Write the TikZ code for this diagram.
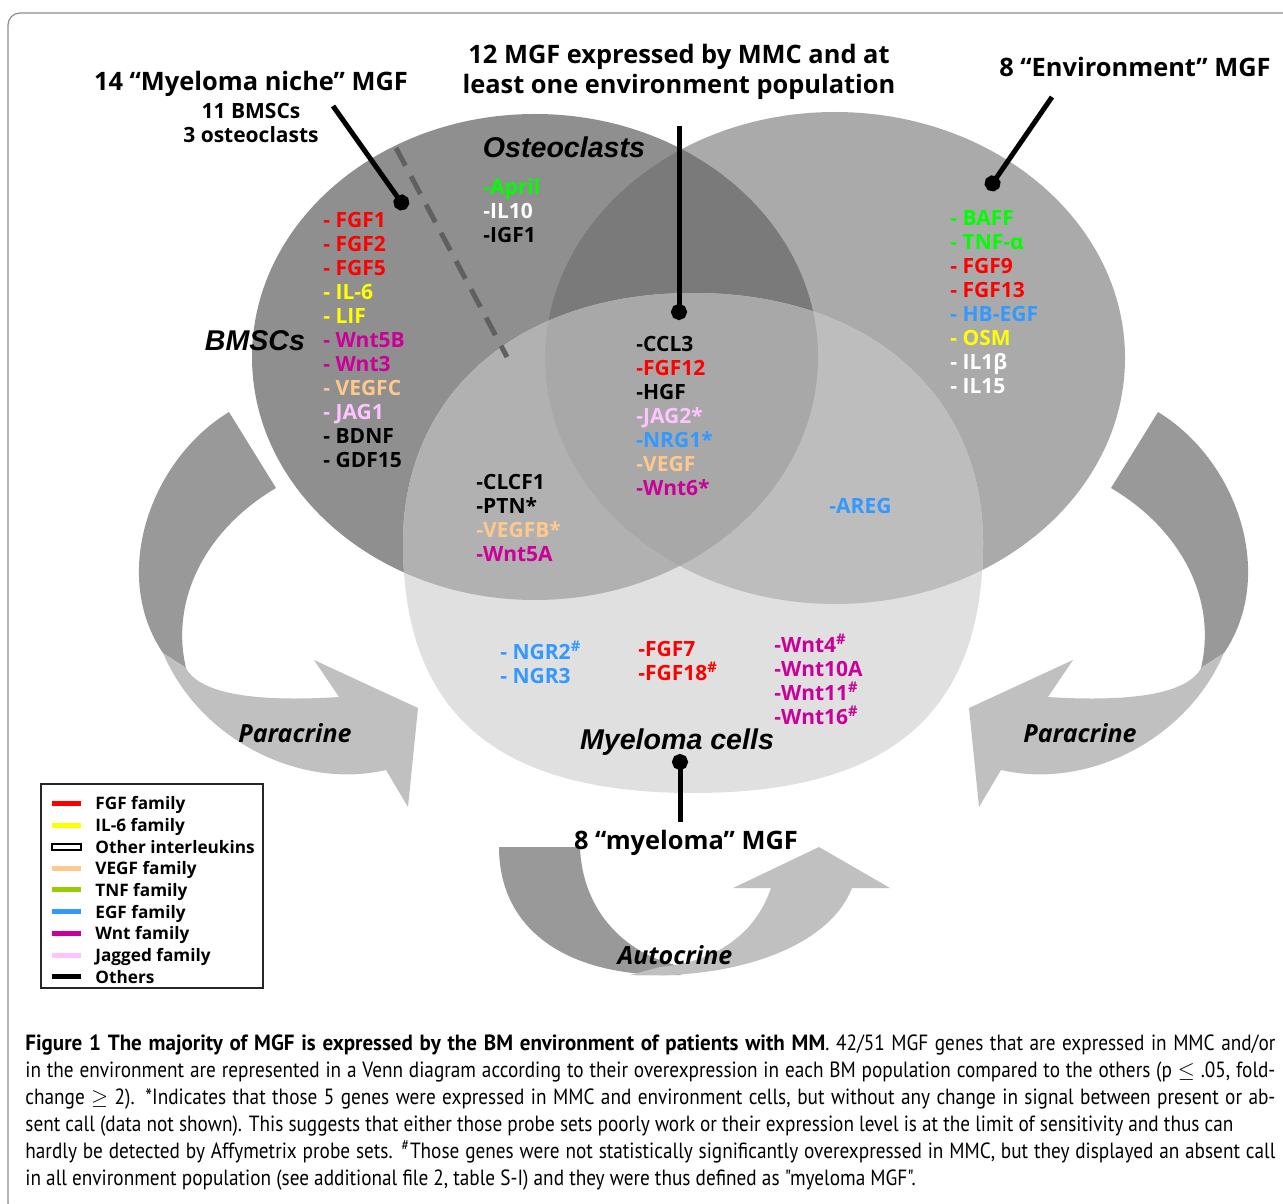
\documentclass[tikz,border=0pt]{standalone}
\usepackage{fontspec}
\usetikzlibrary{arrows.meta}
\newfontfamily\comicfont{Open Sans}
\newfontfamily\arialfont{Liberation Sans}
\newfontfamily\capfont[FakeStretch=0.875]{PT Sans}
\newfontfamily\capboldfont[FakeStretch=0.955]{PT Sans Bold}

\definecolor{fgfred}{HTML}{FF0000}
\definecolor{ilyellow}{HTML}{FFFF00}
\definecolor{vegfpeach}{HTML}{FFC88C}
\definecolor{tnfgreen}{HTML}{99CC00}
\definecolor{tnflime}{HTML}{00FF00}
\definecolor{egfblue}{HTML}{3399FF}
\definecolor{wntmag}{HTML}{CC0099}
\definecolor{jagpink}{HTML}{FFC4FF}
\definecolor{bmgray}{HTML}{8F8F8F}
\definecolor{envgray}{HTML}{AAAAAA}
\definecolor{mmcgray}{HTML}{E0E0E0}
\definecolor{bmenvgray}{HTML}{7A7A7A}
\definecolor{bmmmcgray}{HTML}{B1B1B1}
\definecolor{envmmcgray}{HTML}{BDBDBD}
\definecolor{allgray}{HTML}{A8A8A8}
\definecolor{banddark}{HTML}{999999}
\definecolor{bandlight}{HTML}{C0C0C0}
\definecolor{dashgray}{HTML}{606060}
\definecolor{framegray}{HTML}{8C8C8C}

% Venn outlines (pixel units)
\newcommand{\bmscpath}{(535,357) ellipse [x radius=141.5pt, y radius=121.5pt]}
\newcommand{\envpath}{(835,358) ellipse [x radius=145pt, y radius=123pt]}
\newcommand{\mmcpath}{(693,293) .. controls (867,293) and (983,393) .. (983,543) .. controls (983,713) and (890,793) .. (693,793) .. controls (496,793) and (403,713) .. (403,543) .. controls (403,393) and (519,293) .. (693,293) -- cycle}

% Paracrine band, left one (mirrored for the right one)
\newcommand{\paratop}{(229,412) .. controls (150,460) and (110,575) .. (163,653) -- (186,668) .. controls (170,600) and (205,530) .. (276,488) -- cycle}
\newcommand{\parabottom}{(163,653) .. controls (200,740) and (300,790) .. (386,770) -- (408,807) -- (418,708) -- (314,660) -- (339,697) .. controls (260,702) and (200,695) .. (186,668) -- cycle}

\newcommand{\capline}[1]{\hbox to 625pt{#1}}

\begin{document}
\begin{tikzpicture}[x=0.5pt, y=-0.5pt,
    gene/.style={font=\comicfont\bfseries\fontsize{10.5}{12}\selectfont, align=left, inner sep=0pt, anchor=west},
    legtext/.style={font=\comicfont\bfseries\fontsize{8.6}{10.85}\selectfont, align=left, inner sep=0pt, anchor=west},
    headline/.style={font=\comicfont\bfseries\fontsize{12.7}{15}\selectfont, align=center, inner sep=0pt},
    subline/.style={font=\comicfont\bfseries\fontsize{10.5}{12}\selectfont, align=center, inner sep=0pt},
    cell/.style={font=\arialfont\bfseries\itshape\fontsize{14.3}{17}\selectfont, inner sep=0pt},
    crine/.style={font=\comicfont\bfseries\itshape\fontsize{12.5}{15}\selectfont, inner sep=0pt},
    pointer/.style={line width=2.5pt, -{Circle[length=8pt]}},
    swatch/.style={line width=2.5pt}]

    \useasboundingbox (0,0) rectangle (1283,1203);

    % Outer frame
    \draw[framegray, line width=0.6pt, rounded corners=6pt] (8,13) rectangle (1300,1215);

    % Draw the Venn regions
    \fill[bmgray] \bmscpath;
    \fill[envgray] \envpath;
    \fill[mmcgray] \mmcpath;
    \begin{scope}
        \clip \bmscpath;
        \fill[bmenvgray] \envpath;
    \end{scope}
    \begin{scope}
        \clip \bmscpath;
        \fill[bmmmcgray] \mmcpath;
    \end{scope}
    \begin{scope}
        \clip \envpath;
        \fill[envmmcgray] \mmcpath;
    \end{scope}
    \begin{scope}
        \clip \bmscpath;
        \clip \envpath;
        \fill[allgray] \mmcpath;
    \end{scope}

    % BMSCs / osteoclasts divider
    \coordinate (dashtop) at (396,148);
    \coordinate (dashend) at (507,357);
    \draw[dashgray, line width=2.5pt, dash pattern=on 10pt off 6pt] (dashtop) -- (dashend);

    % Paracrine arrows
    \fill[banddark] \paratop;
    \fill[bandlight] \parabottom;
    \begin{scope}[shift={(1387,0)}, xscale=-1]
        \fill[banddark] \paratop;
        \fill[bandlight] \parabottom;
    \end{scope}

    % Autocrine arrow
    \fill[banddark] (499,847) -- (580,847) .. controls (582,910) and (625,958) .. (690,968) -- (680,975) .. controls (560,978) and (499,925) .. (499,847) -- cycle;
    \fill[bandlight] (630,975) .. controls (740,980) and (830,945) .. (852,888) -- (890,888) -- (819,847) -- (733,888) -- (771,888) .. controls (755,935) and (715,962) .. (660,967) -- cycle;

    % Population names
    \node[cell] (osteo) at (564,147) {Osteoclasts};
    \node[cell] (bmsc) at (255,341) {BMSCs};
    \node[cell] (mmc) at (677,742) {Myeloma cells};

    % Gene lists
    \node[gene] (bmlist) at (323,340) {\textcolor{fgfred}{- FGF1}\\\textcolor{fgfred}{- FGF2}\\\textcolor{fgfred}{- FGF5}\\\textcolor{ilyellow}{- IL-6}\\\textcolor{ilyellow}{- LIF}\\\textcolor{wntmag}{- Wnt5B}\\\textcolor{wntmag}{- Wnt3}\\\textcolor{vegfpeach}{- VEGFC}\\\textcolor{jagpink}{- JAG1}\\- BDNF\\- GDF15};
    \node[gene] (osteolist) at (483,211) {\textcolor{tnflime}{-April}\\\textcolor{white}{-IL10}\\-IGF1};
    \node[gene] (alllist) at (636,416) {-CCL3\\\textcolor{fgfred}{-FGF12}\\-HGF\\\textcolor{jagpink}{-JAG2*}\\\textcolor{egfblue}{-NRG1*}\\\textcolor{vegfpeach}{-VEGF}\\\textcolor{wntmag}{-Wnt6*}};
    \node[gene] (bmmmclist) at (476,518) {-CLCF1\\-PTN*\\\textcolor{vegfpeach}{-VEGFB*}\\\textcolor{wntmag}{-Wnt5A}};
    \node[gene] (envlist) at (950,302) {\textcolor{tnflime}{- BAFF}\\\textcolor{tnflime}{- TNF-α}\\\textcolor{fgfred}{- FGF9}\\\textcolor{fgfred}{- FGF13}\\\textcolor{egfblue}{- HB-EGF}\\\textcolor{ilyellow}{- OSM}\\\textcolor{white}{- IL1β}\\\textcolor{white}{- IL15}};
    \node[gene, text=egfblue] (areg) at (829,506) {-AREG};
    \node[gene, text=egfblue] (ngrlist) at (500,662) {- NGR2\textsuperscript{\#}\\- NGR3};
    \node[gene, text=fgfred] (fgflist) at (638,661) {-FGF7\\-FGF18\textsuperscript{\#}};
    \node[gene, text=wntmag] (wntlist) at (774,679) {-Wnt4\textsuperscript{\#}\\-Wnt10A\\-Wnt11\textsuperscript{\#}\\-Wnt16\textsuperscript{\#}};

    % Headlines
    \node[headline] (shared) at (679,72) {12 MGF expressed by MMC and at\\least one environment population};
    \node[headline] (niche) at (251,84) {14 “Myeloma niche” MGF};
    \node[subline] (nichecount) at (251,123) {11 BMSCs\\3 osteoclasts};
    \node[headline] (envmgf) at (1135,67) {8 “Environment” MGF};
    \node[headline] (mmcmgf) at (686,843) {8 “myeloma” MGF};

    % Pointers
    \coordinate (nichetip) at (333,106);
    \coordinate (nichedot) at (406,209);
    \draw[pointer] (nichetip) -- (nichedot);
    \coordinate (sharedtip) at (679,126);
    \coordinate (shareddot) at (679,320);
    \draw[pointer] (sharedtip) -- (shareddot);
    \coordinate (envtip) at (1052,97);
    \coordinate (envdot) at (988,190);
    \draw[pointer] (envtip) -- (envdot);
    \coordinate (mmcfoot) at (680,822);
    \coordinate (mmcdot) at (680,754);
    \draw[pointer] (mmcfoot) -- (mmcdot);

    % Arrow names
    \node[crine] (paraleft) at (295,733) {Paracrine};
    \node[crine] (pararight) at (1080,733) {Paracrine};
    \node[crine] (autocrine) at (675,955) {Autocrine};

    % Legend
    \draw[line width=1pt, black!85] (41,784) rectangle (263,988);
    \draw[swatch, fgfred] (52,803) -- (81,803);
    \draw[swatch, ilyellow] (52,825) -- (81,825);
    \draw[line width=0.8pt, fill=white] (52,844) rectangle (81,850);
    \draw[swatch, vegfpeach] (52,868) -- (81,868);
    \draw[swatch, tnfgreen] (52,889) -- (81,889);
    \draw[swatch, egfblue] (52,911) -- (81,911);
    \draw[swatch, wntmag] (52,933) -- (81,933);
    \draw[swatch, jagpink] (52,955) -- (81,955);
    \draw[swatch, black] (52,976) -- (81,976);
    \node[legtext] (legend) at (95,890) {FGF family\\IL-6 family\\Other interleukins\\VEGF family\\TNF family\\EGF family\\Wnt family\\Jagged family\\Others};

    % Caption
    \node[anchor=north west, inner sep=0pt, font=\capfont\fontsize{11}{13.5}\selectfont] (caption) at (25,1034) {\vbox{%
        \capline{{\capboldfont Figure 1 The majority of MGF is expressed by the BM environment of patients with MM}. 42/51 MGF genes that are expressed in MMC and/or}
        \capline{in the environment are represented in a Venn diagram according to their overexpression in each BM population compared to the others (p $\le$ .05, fold-}
        \capline{change $\ge$ 2). *Indicates that those 5 genes were expressed in MMC and environment cells, but without any change in signal between present or ab-}
        \hbox{sent call (data not shown). This suggests that either those probe sets poorly work or their expression level is at the limit of sensitivity and thus can}
        \capline{hardly be detected by Affymetrix probe sets. \textsuperscript{\#}Those genes were not statistically significantly overexpressed in MMC, but they displayed an absent call}
        \hbox{in all environment population (see additional file 2, table S-I) and they were thus defined as "myeloma MGF".}}};

\end{tikzpicture}
\end{document}
